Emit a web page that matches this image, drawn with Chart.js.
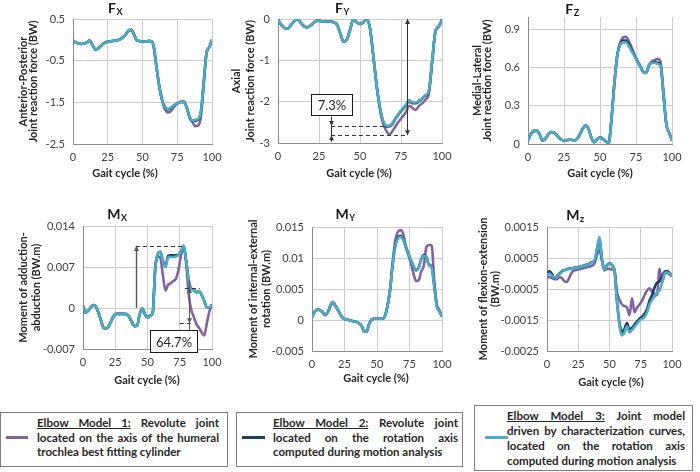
<!DOCTYPE html>
<html>
<head>
<meta charset="utf-8">
<script src="https://cdn.jsdelivr.net/npm/chart.js@4.4.1/dist/chart.umd.min.js"></script>
<style>
  body { margin: 0; width: 700px; height: 472px; overflow: hidden; position: relative; background: #fff; font-family: Lato, sans-serif; }
  canvas { position: absolute; }
  .key { position: absolute; box-sizing: border-box; border: 1px solid #7f7f7f; background: #fff; }
  .key .swatch { position: absolute; height: 3px; }
  .key .txt { position: absolute; font-weight: bold; font-size: 11.5px; color: #262626; }
  .key .j { text-align: justify; text-align-last: justify; }
</style>
</head>
<body>

<div class="key" style="left:0px;top:412px;width:228px;height:55px">
  <div class="swatch" style="left:5px;top:23px;width:22px;background:#8064a2"></div>
  <div class="txt" style="left:36px;top:3px;width:182px;line-height:14.5px">
    <div class="j"><u>Elbow Model 1:</u> Revolute joint</div>
    <div class="j">located on the axis of the humeral</div>
    <div>trochlea best fitting cylinder</div>
  </div>
</div>
<div class="key" style="left:236px;top:412px;width:227px;height:55px">
  <div class="swatch" style="left:5px;top:23px;width:23px;background:#1f3c64"></div>
  <div class="txt" style="left:36px;top:3px;width:185px;line-height:14.5px">
    <div class="j"><u>Elbow Model 2:</u> Revolute joint</div>
    <div class="j">located on the rotation axis</div>
    <div>computed during motion analysis</div>
  </div>
</div>
<div class="key" style="left:474px;top:405px;width:219px;height:66px">
  <div class="swatch" style="left:10px;top:30px;width:23px;background:#4bacc6"></div>
  <div class="txt" style="left:32px;top:2px;width:178px;line-height:15px">
    <div class="j"><u>Elbow Model 3:</u> Joint model</div>
    <div class="j">driven by characterization curves,</div>
    <div class="j">located on the rotation axis</div>
    <div>computed during motion analysis</div>
  </div>
</div>

<script>
// gait cycle samples (%)
const gaitCycle = [0, 2, 4, 6, 8, 10, 12, 14, 16, 18, 20, 22, 24, 26, 28, 30, 32, 34, 36, 38, 40,
  42, 44, 46, 48, 50, 52, 54, 56, 58, 60, 62, 64, 66, 68, 70, 72, 74, 76, 78, 80,
  82, 84, 86, 88, 90, 92, 94, 96, 98, 100];
const xTicks = [0, 25, 50, 75, 100];
const modelNames = ['Elbow Model 1', 'Elbow Model 2', 'Elbow Model 3'];

// Fx - anterior-posterior force (BW)
const fxTicks = [0.5, -0.5, -1.5, -2.5];
const fxModel1 = [-0.02, -0.06, -0.09, -0.10, -0.09, -0.06, -0.02, -0.12, -0.23, -0.21, -0.15, -0.09, -0.05, -0.04, -0.03, -0.02, -0.01, 0.02, 0.06, 0.13, 0.22,
  0.24, 0.12, -0.02, -0.03, -0.04, -0.04, -0.03, -0.03, -0.15, -0.64, -1.10, -1.45, -1.66, -1.74, -1.73, -1.64, -1.56, -1.51, -1.48, -1.48,
  -1.66, -1.88, -1.98, -2.07, -2.06, -1.85, -1.10, -0.33, -0.18, 0.00];
const fxModel2 = [-0.02, -0.06, -0.09, -0.10, -0.09, -0.06, -0.02, -0.12, -0.23, -0.21, -0.15, -0.09, -0.05, -0.04, -0.03, -0.02, -0.01, 0.02, 0.06, 0.13, 0.22,
  0.24, 0.12, -0.02, -0.03, -0.04, -0.04, -0.03, -0.03, -0.15, -0.64, -1.10, -1.42, -1.61, -1.67, -1.65, -1.59, -1.54, -1.51, -1.49, -1.50,
  -1.64, -1.86, -1.95, -1.94, -1.92, -1.73, -1.04, -0.32, -0.18, 0.00];
const fxModel3 = [-0.02, -0.06, -0.09, -0.10, -0.09, -0.06, -0.02, -0.12, -0.23, -0.21, -0.15, -0.09, -0.05, -0.04, -0.03, -0.02, -0.01, 0.02, 0.06, 0.13, 0.22,
  0.24, 0.12, -0.02, -0.03, -0.04, -0.04, -0.03, -0.03, -0.15, -0.64, -1.10, -1.42, -1.60, -1.66, -1.64, -1.59, -1.54, -1.51, -1.49, -1.50,
  -1.64, -1.85, -1.94, -1.92, -1.90, -1.72, -1.04, -0.32, -0.18, 0.00];

// Fy - axial force (BW)
const fyTicks = [0, -1, -2, -3];
const fyModel1 = [-0.02, -0.14, -0.22, -0.23, -0.14, -0.05, 0.00, -0.10, -0.18, -0.20, -0.15, -0.08, -0.04, -0.05, -0.06, -0.06, -0.06, -0.08, -0.14, -0.35, -0.55,
  -0.50, -0.25, 0.00, -0.08, -0.12, -0.08, -0.01, -0.20, -0.85, -1.56, -2.15, -2.52, -2.70, -2.79, -2.70, -2.57, -2.46, -2.36, -2.25, -2.10,
  -2.15, -2.20, -2.10, -2.04, -1.95, -1.80, -1.05, -0.31, -0.18, -0.02];
const fyModel2 = [-0.02, -0.14, -0.22, -0.23, -0.14, -0.05, 0.00, -0.10, -0.18, -0.20, -0.15, -0.08, -0.04, -0.05, -0.06, -0.06, -0.06, -0.08, -0.14, -0.35, -0.55,
  -0.50, -0.25, 0.00, -0.08, -0.12, -0.08, -0.01, -0.20, -0.85, -1.56, -2.11, -2.47, -2.60, -2.60, -2.52, -2.39, -2.28, -2.18, -2.09, -1.98,
  -2.04, -2.04, -1.99, -1.92, -1.85, -1.75, -1.00, -0.30, -0.18, -0.02];
const fyModel3 = [-0.02, -0.14, -0.22, -0.23, -0.14, -0.05, 0.00, -0.10, -0.18, -0.20, -0.15, -0.08, -0.04, -0.05, -0.06, -0.06, -0.06, -0.08, -0.14, -0.35, -0.55,
  -0.50, -0.25, 0.00, -0.08, -0.12, -0.08, -0.01, -0.20, -0.85, -1.56, -2.10, -2.45, -2.58, -2.58, -2.50, -2.37, -2.26, -2.16, -2.07, -1.96,
  -2.02, -2.02, -1.97, -1.91, -1.84, -1.74, -1.00, -0.30, -0.18, -0.02];

// Fz - medial-lateral force (BW)
const fzTicks = [0, 0.3, 0.6, 0.9];
const fzModel1 = [0.030, 0.075, 0.098, 0.100, 0.078, 0.028, 0.040, 0.075, 0.095, 0.090, 0.070, 0.045, 0.030, 0.030, 0.032, 0.034, 0.026, 0.040, 0.075, 0.120, 0.145,
  0.120, 0.050, 0.015, 0.040, 0.050, 0.040, 0.020, 0.005, 0.200, 0.480, 0.700, 0.800, 0.840, 0.845, 0.810, 0.760, 0.700, 0.655, 0.615, 0.570,
  0.560, 0.620, 0.650, 0.660, 0.670, 0.645, 0.420, 0.160, 0.090, 0.030];
const fzModel2 = [0.034, 0.080, 0.105, 0.105, 0.080, 0.028, 0.040, 0.075, 0.095, 0.090, 0.070, 0.045, 0.030, 0.030, 0.032, 0.034, 0.026, 0.040, 0.075, 0.120, 0.145,
  0.120, 0.050, 0.015, 0.040, 0.050, 0.040, 0.020, 0.005, 0.200, 0.480, 0.700, 0.785, 0.815, 0.815, 0.785, 0.740, 0.695, 0.650, 0.610, 0.565,
  0.560, 0.620, 0.640, 0.645, 0.640, 0.625, 0.400, 0.160, 0.090, 0.030];
const fzModel3 = [0.034, 0.080, 0.105, 0.105, 0.080, 0.028, 0.040, 0.075, 0.095, 0.090, 0.070, 0.045, 0.030, 0.030, 0.032, 0.034, 0.026, 0.040, 0.075, 0.120, 0.145,
  0.120, 0.050, 0.015, 0.040, 0.050, 0.040, 0.020, 0.005, 0.200, 0.480, 0.700, 0.780, 0.800, 0.800, 0.770, 0.730, 0.690, 0.650, 0.610, 0.565,
  0.560, 0.620, 0.640, 0.640, 0.630, 0.620, 0.400, 0.160, 0.090, 0.030];

// Mx - adduction-abduction moment (BW.m)
const mxTicks = [0.014, 0.007, 0, -0.007];
const mxModel1 = [0.0004, -0.0008, -0.0005, 0.0001, 0.0005, 0.0002, -0.0008, -0.0022, -0.0034, -0.0035, -0.0031, -0.0022, -0.0013, -0.0010, -0.0010, -0.0010, -0.0010, -0.0011, -0.0016, -0.0025, -0.0031,
  -0.0030, -0.0010, -0.0001, -0.0011, -0.0016, -0.0013, -0.0009, 0.0068, 0.0088, 0.0085, 0.0055, 0.0030, 0.0040, 0.0042, 0.0046, 0.0050, 0.0065, 0.0090, 0.0104, 0.0075,
  0.0022, -0.0004, -0.0016, -0.0028, -0.0034, -0.0042, -0.0047, -0.0026, -0.0006, 0.0006];
const mxModel2 = [0.0004, -0.0008, -0.0005, 0.0001, 0.0005, 0.0002, -0.0008, -0.0022, -0.0034, -0.0035, -0.0031, -0.0022, -0.0013, -0.0010, -0.0010, -0.0010, -0.0010, -0.0011, -0.0016, -0.0025, -0.0031,
  -0.0030, -0.0010, -0.0001, -0.0011, -0.0016, -0.0013, -0.0009, 0.0068, 0.0092, 0.0096, 0.0080, 0.0072, 0.0089, 0.0090, 0.0090, 0.0090, 0.0091, 0.0097, 0.0106, 0.0081,
  0.0046, 0.0033, 0.0031, 0.0027, 0.0029, 0.0022, 0.0012, 0.0001, 0.0001, 0.0006];
const mxModel3 = [0.0004, -0.0008, -0.0005, 0.0001, 0.0005, 0.0002, -0.0008, -0.0022, -0.0034, -0.0035, -0.0031, -0.0022, -0.0013, -0.0010, -0.0010, -0.0010, -0.0010, -0.0011, -0.0016, -0.0025, -0.0031,
  -0.0030, -0.0010, -0.0001, -0.0011, -0.0016, -0.0013, -0.0009, 0.0068, 0.0092, 0.0096, 0.0079, 0.0070, 0.0087, 0.0087, 0.0087, 0.0088, 0.0090, 0.0097, 0.0106, 0.0080,
  0.0045, 0.0032, 0.0030, 0.0026, 0.0029, 0.0022, 0.0012, 0.0001, 0.0001, 0.0006];

// My - internal-external rotation moment (BW.m)
const myTicks = [0.015, 0.01, 0.005, 0, -0.005];
const myModel1 = [0.0005, 0.0013, 0.0017, 0.0016, 0.0013, 0.0008, 0.0012, 0.0022, 0.0029, 0.0023, 0.0016, 0.0008, 0.0003, 0.0001, 0.0000, -0.0001, -0.0002, -0.0003, -0.0005, -0.0009, -0.0018,
  -0.0019, -0.0006, 0.0001, 0.0002, 0.0002, 0.0002, 0.0002, 0.0006, 0.0022, 0.0048, 0.0092, 0.0128, 0.0142, 0.0145, 0.0140, 0.0120, 0.0105, 0.0092, 0.0075, 0.0063,
  0.0064, 0.0078, 0.0088, 0.0118, 0.0121, 0.0121, 0.0065, 0.0026, 0.0016, 0.0006];
const myModel2 = [0.0005, 0.0013, 0.0017, 0.0016, 0.0013, 0.0008, 0.0012, 0.0022, 0.0029, 0.0023, 0.0016, 0.0008, 0.0003, 0.0001, 0.0000, -0.0001, -0.0002, -0.0003, -0.0005, -0.0009, -0.0018,
  -0.0019, -0.0006, 0.0001, 0.0002, 0.0002, 0.0002, 0.0002, 0.0006, 0.0022, 0.0048, 0.0088, 0.0119, 0.0133, 0.0136, 0.0131, 0.0119, 0.0108, 0.0097, 0.0087, 0.0080,
  0.0084, 0.0098, 0.0105, 0.0101, 0.0089, 0.0086, 0.0056, 0.0022, 0.0014, 0.0006];
const myModel3 = [0.0005, 0.0013, 0.0017, 0.0016, 0.0013, 0.0008, 0.0012, 0.0022, 0.0029, 0.0023, 0.0016, 0.0008, 0.0003, 0.0001, 0.0000, -0.0001, -0.0002, -0.0003, -0.0005, -0.0009, -0.0018,
  -0.0019, -0.0006, 0.0001, 0.0002, 0.0002, 0.0002, 0.0002, 0.0006, 0.0022, 0.0048, 0.0088, 0.0118, 0.0131, 0.0134, 0.0130, 0.0118, 0.0107, 0.0097, 0.0087, 0.0080,
  0.0084, 0.0098, 0.0104, 0.0100, 0.0088, 0.0085, 0.0055, 0.0022, 0.0014, 0.0006];

// Mz - flexion-extension moment (BW.m)
const mzTicks = [0.0015, 0.0005, -0.0005, -0.0015, -0.0025];
const mzModel1 = [-0.0001, -0.00012, -0.00015, -0.00018, -0.00018, -0.00012, -0.00015, -0.00025, -0.00027, -0.00012, 0.00004, 0.0001, 0.00012, 0.00014, 0.00016, 0.00018, 0.0002, 0.00022, 0.00025, 0.00032, 0.0006,
  0.00075, 0.0004, 0.0001, 0.00015, 0.00015, 0.00013, 0.0001, -0.0006, -0.00085, -0.001, -0.00105, -0.0011, -0.00135, -0.0008, -0.00125, -0.0011, -0.001, -0.00088, -0.0007, -0.00055,
  -0.00048, -0.00058, -0.00068, -0.0007, 0.00015, -0.0003, -0.00002, 0.00002, -0.00003, -0.0001];
const mzModel2 = [-0.00003, 0.00008, -0.00002, -0.00014, -0.0001, 0.0, 0.00007, 0.00011, 0.00014, 0.00016, 0.00017, 0.00019, 0.0002, 0.00022, 0.00024, 0.00026, 0.00029, 0.00032, 0.00037, 0.0004, 0.00078,
  0.00112, 0.00045, 0.00013, 0.00027, 0.00033, 0.00027, 0.0001, -0.0009, -0.0016, -0.0019, -0.00178, -0.0016, -0.00182, -0.00175, -0.00165, -0.00155, -0.00146, -0.0014, -0.0013, -0.00115,
  -0.00088, -0.0007, -0.00045, -0.0003, -0.00025, -0.0001, 0.00005, 0.00008, 0.00002, -0.00008];
const mzModel3 = [-0.00005, 0.0, -0.00008, -0.00013, -0.00012, -0.00003, 0.00006, 0.0001, 0.00013, 0.00015, 0.00016, 0.00018, 0.00019, 0.00021, 0.00023, 0.00025, 0.00028, 0.00031, 0.00036, 0.00042, 0.0008,
  0.00118, 0.00045, 0.00012, 0.00026, 0.00032, 0.00026, 0.0001, -0.0009, -0.0017, -0.002, -0.0019, -0.0017, -0.0019, -0.00182, -0.00172, -0.00162, -0.00152, -0.00146, -0.0014, -0.00125,
  -0.001, -0.00085, -0.00075, -0.0006, -0.00055, -0.0003, 0.0, 0.00004, 0.0, -0.00009];

Chart.defaults.font.family = 'Lato, sans-serif';

// panel title with subscript + x axis title drawn where the original puts them
const panelText = {
  id: 'panelText',
  afterDraw(chart, args, o) {
    const ctx = chart.ctx;
    ctx.save();
    ctx.fillStyle = '#1a1a1a';
    ctx.textBaseline = 'middle';
    ctx.font = 'bold 14px Lato, sans-serif';
    const wMain = ctx.measureText(o.main).width;
    ctx.font = 'bold 9px Lato, sans-serif';
    const wSub = ctx.measureText(o.sub).width;
    const x0 = o.titleAt[0] - (wMain + wSub) / 2;
    ctx.font = 'bold 14px Lato, sans-serif';
    ctx.fillText(o.main, x0, o.titleAt[1]);
    ctx.font = 'bold 9px Lato, sans-serif';
    ctx.fillText(o.sub, x0 + wMain + 0.5, o.titleAt[1] + 4);
    ctx.fillStyle = '#262626';
    ctx.textAlign = 'center';
    ctx.font = 'bold 11px Lato, sans-serif';
    ctx.fillText('Gait cycle (%)', o.xTitleAt[0], o.xTitleAt[1]);
    ctx.restore();
  }
};

function arrowHead(ctx, px, py, dir) {
  ctx.beginPath();
  ctx.moveTo(px, py);
  ctx.lineTo(px - 2.5, py - dir * 5);
  ctx.lineTo(px + 2.5, py - dir * 5);
  ctx.closePath();
  ctx.fill();
}

// dimension lines, dashed guides and percentage boxes
const guides = {
  id: 'guides',
  afterDatasetsDraw(chart, args, o) {
    const { ctx, scales: { x, y } } = chart;
    ctx.save();
    ctx.lineWidth = 1;
    for (const m of o.items || []) {
      ctx.strokeStyle = m.color || '#333';
      ctx.fillStyle = m.color || '#333';
      if (m.kind === 'dash') {
        ctx.setLineDash([4, 3]);
        ctx.beginPath();
        ctx.moveTo(x.getPixelForValue(m.x1), Math.round(y.getPixelForValue(m.y)) + 0.5);
        ctx.lineTo(x.getPixelForValue(m.x2), Math.round(y.getPixelForValue(m.y)) + 0.5);
        ctx.stroke();
        ctx.setLineDash([]);
      } else if (m.kind === 'line') {
        const px = Math.round(x.getPixelForValue(m.x)) + 0.5;
        ctx.lineWidth = m.width || 1;
        ctx.beginPath();
        ctx.moveTo(px, y.getPixelForValue(m.y1));
        ctx.lineTo(px, y.getPixelForValue(m.y2));
        ctx.stroke();
        ctx.lineWidth = 1;
        (m.heads || []).forEach(h => arrowHead(ctx, px, y.getPixelForValue(h.at), h.dir));
      } else if (m.kind === 'box') {
        const l = Math.round(x.getPixelForValue(m.x1)) + 0.5, r = Math.round(x.getPixelForValue(m.x2)) + 0.5;
        const t = Math.round(y.getPixelForValue(m.y1)) + 0.5, b = Math.round(y.getPixelForValue(m.y2)) + 0.5;
        ctx.fillStyle = '#fff';
        ctx.fillRect(l, t, r - l, b - t);
        ctx.strokeStyle = '#1a1a1a';
        ctx.strokeRect(l, t, r - l, b - t);
        ctx.fillStyle = '#262626';
        ctx.font = '13px Lato, sans-serif';
        ctx.textAlign = 'center';
        ctx.textBaseline = 'middle';
        ctx.fillText(m.text, (l + r) / 2, (t + b) / 2 + 1);
      }
    }
    ctx.restore();
  }
};

const panels = [
  { main: 'F', sub: 'X', series: [fxModel1, fxModel2, fxModel3], yRange: [-2.5, 0.5], yTicks: fxTicks,
    yTitle: ['Anterior-Posterior', 'Joint reaction force (BW)'], yLine: 0.9, yPad: 18.5,
    box: { x: 0, y: 0, w: 230, h: 190 }, plot: { l: 73, t: 19, r: 212, b: 144 },
    titleAt: [115, 8], xTitleAt: [125, 173], guides: [] },
  { main: 'F', sub: 'Y', series: [fyModel1, fyModel2, fyModel3], yRange: [-3, 0], yTicks: fyTicks,
    yTitle: ['Axial', 'Joint reaction force (BW)'], yLine: 1.23, yPad: 8,
    box: { x: 222, y: 0, w: 238, h: 190 }, plot: { l: 278, t: 19, r: 442, b: 143 },
    titleAt: [120, 8], xTitleAt: [137, 173],
    guides: [
      { kind: 'dash', y: -2.59, x1: 32.3, x2: 66.5 },
      { kind: 'dash', y: -2.81, x1: 32.3, x2: 78.7 },
      { kind: 'line', x: 78.7, y1: 0, y2: -2.81, heads: [{ at: 0, dir: -1 }, { at: -2.81, dir: 1 }] },
      { kind: 'line', x: 32.3, y1: -2.36, y2: -2.97, heads: [{ at: -2.59, dir: 1 }, { at: -2.81, dir: -1 }] },
      { kind: 'box', x1: 20, x2: 45, y1: -1.81, y2: -2.32, text: '7.3%' }
    ] },
  { main: 'F', sub: 'Z', series: [fzModel1, fzModel2, fzModel3], yRange: [0, 1], yTicks: fzTicks,
    yTitle: ['Medial-Lateral', 'Joint reaction force (BW)'], yLine: 0.9, yPad: 13,
    box: { x: 460, y: 0, w: 240, h: 190 }, plot: { l: 528, t: 17, r: 672, b: 144 },
    titleAt: [112, 9], xTitleAt: [140, 173], guides: [] },
  { main: 'M', sub: 'X', series: [mxModel1, mxModel2, mxModel3], yRange: [-0.007, 0.014], yTicks: mxTicks,
    yTitle: ['Moment of adduction-', 'abduction (BW.m)'], yLine: 1.18, yPad: 16.5,
    box: { x: 0, y: 200, w: 230, h: 190 }, plot: { l: 83, t: 226, r: 212, b: 349 },
    titleAt: [117, 14], xTitleAt: [147, 180],
    guides: [
      { kind: 'line', x: 41, y1: 0, y2: 0.0106, color: '#555', width: 1.4, heads: [{ at: 0.0106, dir: -1 }] },
      { kind: 'dash', y: 0.0106, x1: 41, x2: 78 },
      { kind: 'dash', y: 0.0034, x1: 79, x2: 90.5 },
      { kind: 'dash', y: -0.0026, x1: 75, x2: 84 },
      { kind: 'line', x: 81.8, y1: 0.0048, y2: -0.0046, color: '#555', heads: [{ at: 0.0034, dir: -1 }, { at: -0.0026, dir: 1 }] },
      { kind: 'box', x1: 52, x2: 88.4, y1: -0.0037, y2: -0.0075, text: '64.7%' }
    ] },
  { main: 'M', sub: 'Y', series: [myModel1, myModel2, myModel3], yRange: [-0.005, 0.015], yTicks: myTicks,
    yTitle: ['Moment of internal-external', 'rotation (BW.m)'], yLine: 1.18, yPad: 16.5,
    box: { x: 230, y: 200, w: 230, h: 190 }, plot: { l: 312, t: 227, r: 442, b: 351 },
    titleAt: [115, 14], xTitleAt: [146, 178], guides: [] },
  { main: 'M', sub: 'z', series: [mzModel1, mzModel2, mzModel3], yRange: [-0.0025, 0.0015], yTicks: mzTicks,
    yTitle: ['Moment of flexion-extension', '(BW.m)'], yLine: 1.1, yPad: 17,
    box: { x: 460, y: 200, w: 240, h: 190 }, plot: { l: 547, t: 227, r: 672, b: 351 },
    titleAt: [115, 15], xTitleAt: [151, 182], guides: [] }
];

const colours = ['#8064a2', '#1f3c64', '#4bacc6'];

function buildPanel(p) {
  const cv = document.createElement('canvas');
  cv.width = p.box.w;
  cv.height = p.box.h;
  cv.style.left = p.box.x + 'px';
  cv.style.top = p.box.y + 'px';
  document.body.appendChild(cv);

  new Chart(cv, {
    type: 'line',
    data: {
      datasets: p.series.map((vals, i) => ({
        label: modelNames[i],
        data: gaitCycle.map((g, k) => ({ x: g, y: vals[k] })),
        borderColor: colours[i],
        borderWidth: 2.6,
        pointRadius: 0,
        cubicInterpolationMode: 'monotone',
        order: 3 - i
      }))
    },
    options: {
      responsive: false,
      animation: false,
      events: [],
      layout: { padding: { left: 0, top: p.plot.t - p.box.y, right: p.box.x + p.box.w - p.plot.r, bottom: 0 } },
      plugins: {
        legend: { display: false },
        tooltip: { enabled: false },
        panelText: { main: p.main, sub: p.sub, titleAt: p.titleAt, xTitleAt: p.xTitleAt },
        guides: { items: p.guides }
      },
      scales: {
        x: {
          type: 'linear', min: 0, max: 100,
          afterBuildTicks: s => { s.ticks = xTicks.map(v => ({ value: v })); },
          afterFit: s => { s.height = p.box.y + p.box.h - p.plot.b; },
          grid: { color: '#cccccc', drawTicks: false },
          border: { color: '#8c8c8c' },
          ticks: { padding: 7, color: '#404040', font: { size: 11 }, maxRotation: 0, autoSkip: false, callback: v => String(v) }
        },
        y: {
          min: p.yRange[0], max: p.yRange[1],
          afterBuildTicks: s => { s.ticks = p.yTicks.map(v => ({ value: v })); },
          afterFit: s => { s.width = p.plot.l - p.box.x; },
          grid: { color: '#cccccc', drawTicks: false },
          border: { color: '#8c8c8c' },
          ticks: { padding: 8, color: '#404040', font: { size: 11 }, callback: v => String(v) },
          title: { display: true, text: p.yTitle, color: '#262626',
            font: { size: 11, weight: 'bold', lineHeight: p.yLine }, padding: { top: p.yPad, bottom: 0 } }
        }
      }
    },
    plugins: [panelText, guides]
  });
}

panels.forEach(buildPanel);
</script>
</body>
</html>
